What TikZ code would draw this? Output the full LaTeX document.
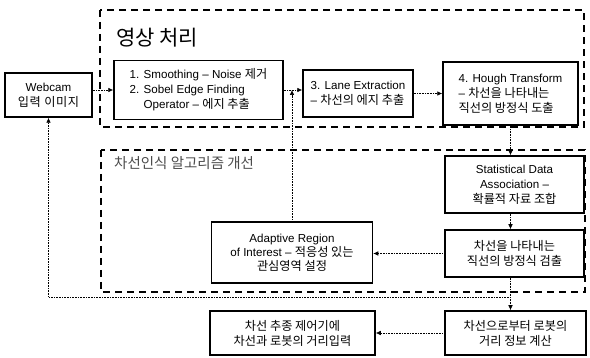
\documentclass[tikz,border=0pt]{standalone}
\usepackage{fontspec}
\setmainfont{Liberation Sans}
\newfontfamily\kr{Noto Sans CJK KR}[Scale=1.05]
\newfontfamily\krw{Noto Sans CJK KR}[Scale=1.05,LetterSpace=5]
\newcommand\K[1]{{\kr #1}}
\usetikzlibrary{arrows.meta}
\begin{document}
\begin{tikzpicture}[x=1pt,y=-1pt,
  box/.style={draw, line width=1.5pt, inner sep=2pt, font=\fontsize{11.6}{15}\selectfont, align=center},
  arr/.style={line width=0.6pt, densely dotted, -{Latex[length=5pt,width=4.5pt]}},
  region/.style={line width=1.5pt, dash pattern=on 7pt off 5pt}]
\useasboundingbox (0,0) rectangle (590,358);
% regions
\draw[region] (100,10) rectangle (584,127);
\draw[region] (101,150) rectangle (585,292);
\node[anchor=west, inner sep=0pt, font=\fontsize{20}{24}\selectfont\kr] (t1) at (116,38) {영상 처리};
\node[anchor=west, inner sep=0pt, font=\fontsize{13.8}{16}\selectfont\kr, text=black!70] (t2) at (114,163) {차선인식 알고리즘 개선};
% boxes
\node[box, minimum width=87, minimum height=44] (webcam) at (48.5,95) {Webcam\\{\krw 입력 이미지}};
\node[box, minimum width=169, minimum height=59, align=left] (s1) at (198.5,90) {1. Smoothing – Noise \K{제거}\\2. Sobel Edge Finding\\\phantom{2. }Operator – \K{에지 추출}};
\node[box, minimum width=110, minimum height=47, align=left] (s3) at (358,93.5) {3. Lane Extraction\\– \K{차선의 에지 추출}};
\node[box, minimum width=135, minimum height=63, align=left] (s4) at (510.5,93.5) {4. Hough Transform\\– \K{차선을 나타내는}\\\K{직선의 방정식 도출}};
\node[box, minimum width=139, minimum height=57] (stat) at (514.5,184.5) {Statistical Data\\Association –\\\K{확률적 자료 조합}};
\node[box, minimum width=139, minimum height=47] (det) at (514.5,253.5) {\K{차선을 나타내는}\\\K{직선의 방정식 검출}};
\node[box, minimum width=161, minimum height=61, font=\fontsize{11.6}{14}\selectfont] (roi) at (292,252.5) {Adaptive Region\\of Interest – \K{적응성 있는}\\\K{관심영역 설정}};
\node[box, minimum width=141, minimum height=44] (calc) at (515.5,333) {\K{차선으로부터 로봇의}\\\K{거리 정보 계산}};
\node[box, minimum width=165, minimum height=44] (ctrl) at (292.5,333) {\K{차선 추종 제어기에}\\\K{차선과 로봇의 거리입력}};
% connectors
\draw[arr] (webcam.east |- s1.west) -- (s1.west);
\draw[arr] (s1.east) -- (s1.east -| s3.west);
\draw[arr] (s3.east) -- (s3.east -| s4.west);
\draw[arr] (s4.south) -- (s4.south |- stat.north);
\draw[arr] (stat.south -| s4.south) -- (det.north -| s4.south);
\draw[arr] (det.west) -- (det.west -| roi.east);
\draw[arr] (roi.north) -- (roi.north |- s1.east);
\draw[arr] (det.south -| s4.south) -- (calc.north -| s4.south);
\coordinate (j) at (510.5,297);
\draw[arr] (j) -| (webcam.south);
\draw[arr] (calc.west) -- (calc.west -| ctrl.east);
\end{tikzpicture}
\end{document}
